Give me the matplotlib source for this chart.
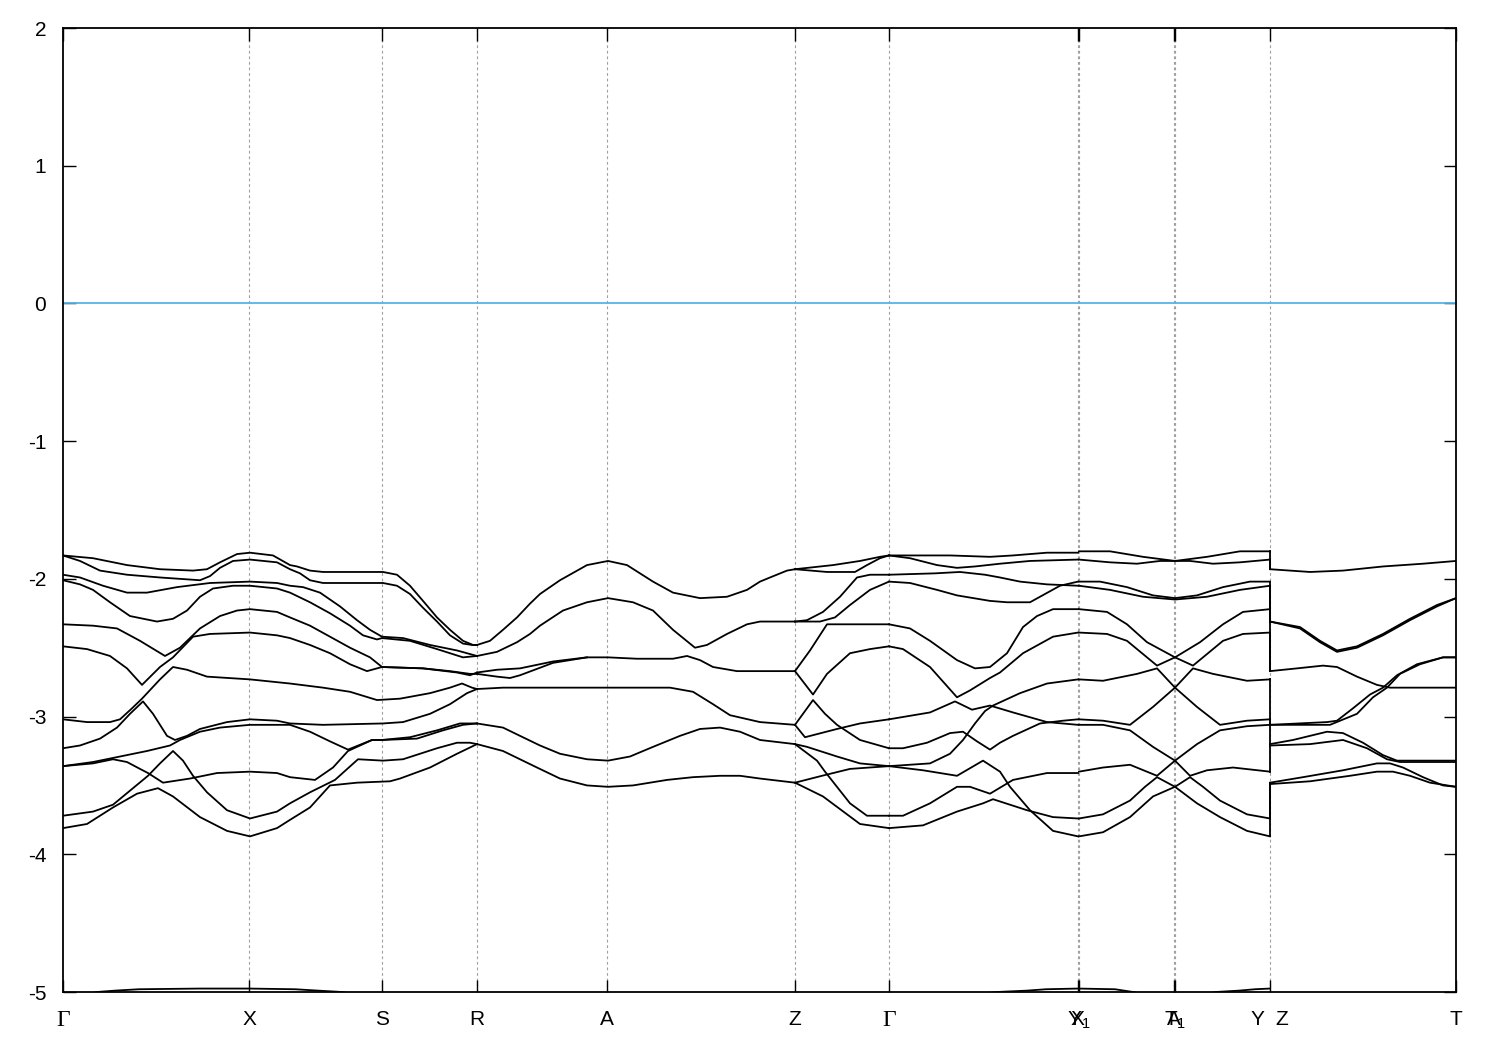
import matplotlib.pyplot as plt

plt.rcParams['font.family'] = ['Liberation Sans', 'DejaVu Sans']
plt.rcParams['axes.unicode_minus'] = False
plt.rcParams['mathtext.fontset'] = 'custom'
plt.rcParams['mathtext.rm'] = 'Liberation Sans'
plt.rcParams['mathtext.default'] = 'regular'

# high-symmetry points along the k-path
hs_k = [0.0, 1.86, 3.19, 4.14, 5.44, 7.32, 8.26, 10.145, 10.16, 11.11, 11.12, 12.07, 13.93]
hs_labels = ['Γ', 'X', 'S', 'R', 'A', 'Z', 'Γ', 'X', 'Y$_1$', 'A', 'T$_1$', 'Y  Z', 'T']

# bands as (k, E) pairs
bands_gamma_r = [
    [(0.00, -1.83), (0.30, -1.85), (0.64, -1.90), (0.97, -1.93), (1.30, -1.94), (1.44, -1.93), (1.57, -1.88),
     (1.74, -1.82), (1.87, -1.81), (2.10, -1.83), (2.27, -1.90), (2.34, -1.91), (2.47, -1.94), (2.60, -1.95),
     (3.07, -1.95), (3.20, -1.95), (3.34, -1.97), (3.47, -2.05), (3.60, -2.16), (3.74, -2.28), (3.87, -2.37),
     (4.00, -2.45), (4.10, -2.48), (4.14, -2.48)],
    [(0.00, -1.83), (0.17, -1.87), (0.37, -1.94), (0.64, -1.97), (0.97, -1.99), (1.37, -2.01), (1.47, -1.98),
     (1.57, -1.92), (1.70, -1.87), (1.87, -1.86), (2.14, -1.88), (2.27, -1.93), (2.37, -1.96), (2.47, -2.01),
     (2.60, -2.03), (3.20, -2.03), (3.34, -2.05), (3.47, -2.11), (3.60, -2.21), (3.74, -2.31), (3.87, -2.41),
     (4.00, -2.47), (4.09, -2.48), (4.14, -2.48)],
    [(0.00, -1.97), (0.17, -1.99), (0.40, -2.05), (0.64, -2.10), (0.84, -2.10), (1.14, -2.06), (1.47, -2.03),
     (1.87, -2.02), (2.14, -2.03), (2.27, -2.05), (2.40, -2.06), (2.57, -2.10), (2.77, -2.20), (2.94, -2.30),
     (3.07, -2.37), (3.19, -2.42), (3.40, -2.43), (3.67, -2.48), (3.94, -2.52), (4.14, -2.56)],
    [(0.00, -2.01), (0.17, -2.04), (0.30, -2.08), (0.47, -2.17), (0.67, -2.27), (0.94, -2.31), (1.10, -2.29),
     (1.24, -2.23), (1.37, -2.13), (1.50, -2.07), (1.70, -2.05), (1.87, -2.05), (2.14, -2.07), (2.27, -2.10),
     (2.47, -2.17), (2.67, -2.25), (2.87, -2.34), (3.00, -2.41), (3.14, -2.44), (3.19, -2.43), (3.47, -2.45),
     (3.74, -2.51), (4.00, -2.57), (4.14, -2.56)],
    [(0.00, -2.33), (0.30, -2.34), (0.54, -2.36), (0.77, -2.45), (1.02, -2.56), (1.17, -2.50), (1.37, -2.36),
     (1.57, -2.27), (1.74, -2.23), (1.87, -2.22), (2.14, -2.24), (2.27, -2.28), (2.47, -2.34), (2.67, -2.42),
     (2.87, -2.50), (3.07, -2.57), (3.19, -2.64), (3.60, -2.65), (3.87, -2.67), (4.07, -2.69), (4.14, -2.69)],
    [(0.00, -2.49), (0.24, -2.51), (0.47, -2.56), (0.64, -2.65), (0.79, -2.77), (0.97, -2.64), (1.10, -2.57),
     (1.30, -2.42), (1.47, -2.40), (1.87, -2.39), (2.14, -2.41), (2.27, -2.43), (2.47, -2.48), (2.67, -2.54),
     (2.87, -2.62), (3.04, -2.67), (3.19, -2.64), (3.60, -2.65), (3.94, -2.68), (4.07, -2.70), (4.14, -2.68)],
    [(0.00, -3.02), (0.24, -3.04), (0.47, -3.04), (0.57, -3.02), (0.69, -2.94), (0.79, -2.87), (0.97, -2.73),
     (1.10, -2.64), (1.24, -2.66), (1.44, -2.71), (1.87, -2.73), (2.27, -2.76), (2.60, -2.79), (2.87, -2.82),
     (3.14, -2.88), (3.37, -2.87), (3.67, -2.83), (3.87, -2.79), (3.99, -2.76), (4.09, -2.79), (4.14, -2.80)],
    [(0.00, -3.23), (0.17, -3.21), (0.37, -3.16), (0.54, -3.08), (0.67, -2.98), (0.80, -2.89), (0.90, -2.98),
     (1.04, -3.14), (1.12, -3.17), (1.24, -3.14), (1.37, -3.09), (1.64, -3.04), (1.87, -3.02), (2.14, -3.03),
     (2.27, -3.05), (2.60, -3.06), (3.20, -3.05), (3.40, -3.04), (3.67, -2.98), (3.87, -2.91), (4.04, -2.83),
     (4.14, -2.80)],
    [(0.00, -3.36), (0.30, -3.33), (0.57, -3.29), (0.84, -3.25), (1.07, -3.21), (1.17, -3.17), (1.37, -3.11),
     (1.57, -3.08), (1.87, -3.06), (2.27, -3.06), (2.47, -3.11), (2.67, -3.18), (2.85, -3.24), (3.09, -3.17),
     (3.19, -3.17), (3.47, -3.15), (3.74, -3.10), (3.97, -3.05), (4.14, -3.05)],
    [(0.00, -3.36), (0.30, -3.34), (0.50, -3.31), (0.64, -3.33), (0.77, -3.38), (0.85, -3.41), (1.00, -3.48),
     (1.27, -3.45), (1.54, -3.41), (1.87, -3.40), (2.14, -3.41), (2.27, -3.44), (2.52, -3.46), (2.70, -3.37),
     (2.85, -3.25), (2.97, -3.21), (3.09, -3.17), (3.19, -3.17), (3.54, -3.16), (3.80, -3.10), (4.00, -3.06),
     (4.14, -3.05)],
    [(0.00, -3.72), (0.30, -3.69), (0.50, -3.64), (0.70, -3.52), (0.85, -3.43), (0.97, -3.34), (1.10, -3.25),
     (1.20, -3.32), (1.30, -3.43), (1.44, -3.55), (1.64, -3.68), (1.87, -3.74), (2.14, -3.69), (2.27, -3.63),
     (2.47, -3.55), (2.72, -3.46), (2.95, -3.31), (3.20, -3.32), (3.40, -3.31), (3.74, -3.23), (3.94, -3.19),
     (4.07, -3.19), (4.14, -3.20)],
    [(0.00, -3.81), (0.24, -3.78), (0.50, -3.66), (0.74, -3.56), (0.95, -3.52), (1.10, -3.58), (1.37, -3.73),
     (1.64, -3.83), (1.87, -3.87), (2.14, -3.81), (2.27, -3.75), (2.47, -3.66), (2.67, -3.50), (2.94, -3.48),
     (3.27, -3.47), (3.37, -3.45), (3.67, -3.37), (3.94, -3.27), (4.14, -3.20)],
]

bands_r_z = [
    [(4.14, -2.48), (4.27, -2.45), (4.40, -2.37), (4.54, -2.28), (4.67, -2.18), (4.77, -2.11), (4.97, -2.01),
     (5.24, -1.90), (5.45, -1.87), (5.64, -1.90), (5.90, -2.02), (6.10, -2.10), (6.37, -2.14), (6.64, -2.13),
     (6.84, -2.08), (6.97, -2.02), (7.07, -1.99), (7.24, -1.94), (7.32, -1.93)],
    [(4.14, -2.56), (4.34, -2.53), (4.54, -2.46), (4.67, -2.40), (4.77, -2.34), (5.00, -2.23), (5.24, -2.17),
     (5.45, -2.14), (5.70, -2.17), (5.90, -2.23), (6.10, -2.37), (6.32, -2.50), (6.44, -2.48), (6.64, -2.40),
     (6.84, -2.33), (6.97, -2.31), (7.32, -2.31)],
    [(4.14, -2.69), (4.34, -2.71), (4.47, -2.72), (4.57, -2.70), (4.90, -2.61), (5.24, -2.57), (5.45, -2.57),
     (5.74, -2.58), (6.10, -2.58), (6.24, -2.56), (6.37, -2.59), (6.50, -2.64), (6.74, -2.67), (7.32, -2.67)],
    [(4.14, -2.68), (4.34, -2.66), (4.57, -2.65), (4.90, -2.60), (5.24, -2.57)],
    [(4.14, -2.80), (4.40, -2.79), (5.45, -2.79), (6.07, -2.79), (6.30, -2.82), (6.50, -2.91), (6.67, -2.99),
     (6.97, -3.04), (7.32, -3.06)],
    [(4.14, -3.05), (4.40, -3.08), (4.57, -3.14), (4.77, -3.21), (4.97, -3.27), (5.24, -3.31), (5.45, -3.32),
     (5.67, -3.29), (5.90, -3.22), (6.17, -3.14), (6.37, -3.09), (6.57, -3.08), (6.77, -3.11), (6.97, -3.17),
     (7.32, -3.20)],
    [(4.14, -3.20), (4.40, -3.25), (4.74, -3.37), (4.97, -3.45), (5.24, -3.50), (5.45, -3.51), (5.70, -3.50),
     (6.04, -3.46), (6.30, -3.44), (6.57, -3.43), (6.77, -3.43), (6.97, -3.45), (7.32, -3.48)],
]

bands_z_gamma = [
    [(7.32, -1.93), (7.70, -1.90), (7.97, -1.87), (8.17, -1.84), (8.26, -1.83)],
    [(7.32, -1.93), (7.64, -1.95), (7.92, -1.95), (8.04, -1.90), (8.17, -1.85), (8.26, -1.83)],
    [(7.32, -2.31), (7.44, -2.30), (7.60, -2.24), (7.77, -2.13), (7.94, -1.99), (8.07, -1.97), (8.26, -1.97)],
    [(7.32, -2.31), (7.57, -2.31), (7.72, -2.28), (7.87, -2.19), (8.07, -2.08), (8.26, -2.02)],
    [(7.32, -2.67), (7.47, -2.52), (7.64, -2.33), (7.97, -2.33), (8.26, -2.33)],
    [(7.32, -2.67), (7.50, -2.84), (7.64, -2.69), (7.87, -2.54), (8.07, -2.51), (8.26, -2.49)],
    [(7.32, -3.06), (7.50, -2.88), (7.62, -2.98), (7.74, -3.06), (7.97, -3.17), (8.26, -3.23)],
    [(7.32, -3.06), (7.42, -3.15), (7.74, -3.09), (7.97, -3.05), (8.26, -3.02)],
    [(7.32, -3.20), (7.44, -3.22), (7.74, -3.29), (7.97, -3.34), (8.26, -3.36)],
    [(7.32, -3.48), (7.59, -3.43), (7.87, -3.38), (8.26, -3.36)],
    [(7.32, -3.20), (7.54, -3.32), (7.62, -3.40), (7.87, -3.63), (8.04, -3.72), (8.26, -3.72)],
    [(7.32, -3.48), (7.60, -3.58), (7.97, -3.78), (8.26, -3.81)],
]

bands_gamma_x = [
    [(8.26, -1.83), (8.57, -1.83), (8.87, -1.83), (9.27, -1.84), (9.50, -1.83), (9.84, -1.81), (10.15, -1.81)],
    [(8.26, -1.83), (8.47, -1.85), (8.74, -1.90), (8.94, -1.92), (9.12, -1.91), (9.37, -1.89), (9.67, -1.87),
     (10.15, -1.86)],
    [(8.26, -1.97), (8.72, -1.96), (8.97, -1.95), (9.22, -1.97), (9.37, -1.99), (9.57, -2.02), (9.84, -2.04),
     (10.15, -2.05)],
    [(8.26, -2.02), (8.47, -2.03), (8.74, -2.08), (8.94, -2.12), (9.27, -2.16), (9.44, -2.17), (9.67, -2.17),
     (9.82, -2.11), (9.97, -2.05), (10.15, -2.02)],
    [(8.26, -2.33), (8.47, -2.36), (8.67, -2.45), (8.94, -2.59), (9.12, -2.65), (9.27, -2.64), (9.44, -2.54),
     (9.60, -2.35), (9.74, -2.27), (9.90, -2.22), (10.15, -2.22)],
    [(8.26, -2.49), (8.40, -2.51), (8.67, -2.64), (8.94, -2.86), (9.07, -2.81), (9.27, -2.72), (9.37, -2.68),
     (9.60, -2.54), (9.90, -2.42), (10.15, -2.39)],
    [(8.26, -3.02), (8.67, -2.97), (8.92, -2.89), (9.09, -2.95), (9.27, -2.92), (9.50, -2.97), (9.84, -3.04),
     (10.15, -3.06)],
    [(8.26, -3.23), (8.40, -3.23), (8.64, -3.19), (8.87, -3.12), (9.00, -3.11), (9.14, -3.18), (9.27, -3.24),
     (9.37, -3.19), (9.50, -3.14), (9.77, -3.05), (10.00, -3.03), (10.15, -3.02)],
    [(8.26, -3.36), (8.67, -3.34), (8.87, -3.27), (9.00, -3.17), (9.12, -3.05), (9.22, -2.96), (9.30, -2.92),
     (9.57, -2.83), (9.84, -2.76), (10.15, -2.73)],
    [(8.26, -3.36), (8.60, -3.39), (8.94, -3.43), (9.20, -3.32), (9.37, -3.40), (9.47, -3.51), (9.67, -3.68),
     (9.90, -3.83), (10.15, -3.87)],
    [(8.26, -3.72), (8.40, -3.72), (8.67, -3.63), (8.94, -3.51), (9.07, -3.51), (9.27, -3.56), (9.50, -3.46),
     (9.84, -3.41), (10.15, -3.41)],
    [(8.26, -3.81), (8.60, -3.79), (8.94, -3.69), (9.20, -3.63), (9.30, -3.60), (9.64, -3.68), (9.90, -3.73),
     (10.15, -3.74)],
]

bands_y1_y = [
    [(10.16, -1.80), (10.47, -1.80), (10.80, -1.84), (11.12, -1.87), (11.44, -1.84), (11.77, -1.80), (12.07, -1.80)],
    [(10.16, -1.86), (10.47, -1.88), (10.74, -1.89), (10.97, -1.87), (11.12, -1.87), (11.27, -1.87), (11.50, -1.89),
     (11.77, -1.88), (12.07, -1.86)],
    [(10.16, -2.02), (10.37, -2.02), (10.64, -2.06), (10.90, -2.12), (11.12, -2.14), (11.34, -2.12), (11.60, -2.06),
     (11.87, -2.02), (12.07, -2.02)],
    [(10.16, -2.05), (10.47, -2.08), (10.80, -2.13), (11.12, -2.15), (11.44, -2.13), (11.77, -2.08), (12.07, -2.05)],
    [(10.16, -2.22), (10.44, -2.24), (10.64, -2.33), (10.84, -2.46), (11.12, -2.57), (11.30, -2.63), (11.40, -2.57),
     (11.60, -2.45), (11.80, -2.40), (12.07, -2.39)],
    [(10.16, -2.39), (10.44, -2.40), (10.64, -2.45), (10.84, -2.57), (10.94, -2.63), (11.12, -2.57), (11.37, -2.46),
     (11.60, -2.33), (11.80, -2.24), (12.07, -2.22)],
    [(10.16, -2.73), (10.40, -2.74), (10.74, -2.69), (10.94, -2.65), (11.12, -2.79), (11.34, -2.93), (11.57, -3.06),
     (11.84, -3.03), (12.07, -3.02)],
    [(10.16, -3.02), (10.40, -3.03), (10.67, -3.06), (10.90, -2.93), (11.12, -2.79), (11.30, -2.65), (11.50, -2.69),
     (11.84, -2.74), (12.07, -2.73)],
    [(10.16, -3.06), (10.40, -3.06), (10.67, -3.10), (10.90, -3.22), (11.12, -3.32), (11.27, -3.43), (11.44, -3.39),
     (11.70, -3.37), (12.07, -3.40)],
    [(10.16, -3.40), (10.40, -3.37), (10.67, -3.35), (10.94, -3.43), (11.12, -3.32), (11.34, -3.20), (11.57, -3.10),
     (11.84, -3.07), (12.07, -3.06)],
    [(10.16, -3.74), (10.40, -3.71), (10.67, -3.61), (10.82, -3.51), (10.94, -3.44), (11.12, -3.51), (11.34, -3.63),
     (11.57, -3.73), (11.84, -3.83), (12.07, -3.87)],
    [(10.16, -3.87), (10.40, -3.84), (10.67, -3.73), (10.90, -3.58), (11.12, -3.51), (11.27, -3.44), (11.40, -3.51),
     (11.57, -3.61), (11.84, -3.71), (12.07, -3.74)],
]

bands_z_t = [
    [(12.07, -1.93), (12.47, -1.95), (12.80, -1.94), (13.20, -1.91), (13.60, -1.89), (13.93, -1.87)],
    [(12.07, -2.31), (12.37, -2.35), (12.57, -2.45), (12.74, -2.52), (12.94, -2.49), (13.20, -2.40), (13.47, -2.29),
     (13.74, -2.19), (13.93, -2.14)],
    [(12.07, -2.31), (12.37, -2.36), (12.57, -2.46), (12.74, -2.53), (12.94, -2.50), (13.20, -2.41), (13.47, -2.30),
     (13.74, -2.20), (13.93, -2.14)],
    [(12.07, -2.67), (12.34, -2.65), (12.60, -2.63), (12.74, -2.64), (12.94, -2.71), (13.14, -2.77), (13.27, -2.79),
     (13.93, -2.79)],
    [(12.07, -3.06), (12.64, -3.04), (12.74, -3.03), (12.90, -2.94), (13.07, -2.84), (13.20, -2.79), (13.34, -2.70),
     (13.54, -2.62), (13.80, -2.57), (13.93, -2.57)],
    [(12.07, -3.06), (12.67, -3.06), (12.94, -2.98), (13.10, -2.86), (13.24, -2.79), (13.37, -2.69), (13.57, -2.62),
     (13.80, -2.57), (13.93, -2.57)],
    [(12.07, -3.20), (12.30, -3.17), (12.64, -3.11), (12.80, -3.12), (13.00, -3.19), (13.20, -3.28), (13.34, -3.32),
     (13.47, -3.32), (13.93, -3.32)],
    [(12.07, -3.21), (12.47, -3.20), (12.80, -3.17), (13.04, -3.23), (13.24, -3.31), (13.37, -3.33), (13.93, -3.33)],
    [(12.07, -3.48), (12.40, -3.44), (12.80, -3.39), (13.14, -3.34), (13.27, -3.34), (13.40, -3.37), (13.60, -3.44),
     (13.80, -3.50), (13.93, -3.51)],
    [(12.07, -3.49), (12.47, -3.47), (12.87, -3.43), (13.14, -3.40), (13.30, -3.40), (13.47, -3.43), (13.67, -3.48),
     (13.93, -3.51)],
]

# the path jumps at Y|Z: band ends on the Y side and starts on the Z side
jump_y = [-1.80, -1.86, -2.02, -2.05, -2.22, -2.39, -2.73, -3.02, -3.06, -3.40, -3.74, -3.87]
jump_z = [-1.93, -1.93, -2.31, -2.31, -2.67, -2.67, -3.06, -3.06, -3.20, -3.21, -3.48, -3.49]

# lowest band, only just peeking above -5
band_low_1 = [(0.00, -5.06), (0.34, -5.00), (0.52, -4.99), (0.76, -4.98), (1.37, -4.975), (1.86, -4.975),
              (2.32, -4.98), (2.55, -4.99), (2.79, -5.00), (3.19, -5.06)]
band_low_2 = [(8.26, -5.10), (9.34, -5.00), (9.64, -4.99), (9.83, -4.98), (10.15, -4.975), (10.52, -4.98),
              (10.70, -5.00), (11.12, -5.06), (11.53, -5.00), (11.76, -4.99), (11.92, -4.98), (12.07, -4.975)]

fig = plt.figure(figsize=(15, 10.5), dpi=100)
ax = fig.add_axes([63 / 1500, 1 - 992 / 1050, (1456 - 63) / 1500, (992 - 28) / 1050])

for k in hs_k[1:-1]:
    ax.axvline(k, color='#a0a0a0', lw=0.8, ls=(0, (2.5, 2.5)), zorder=1)
ax.axhline(0, color='#56b4e9', lw=1.3, zorder=2)

for seg in [bands_gamma_r, bands_r_z, bands_z_gamma, bands_gamma_x, bands_y1_y, bands_z_t,
            [band_low_1, band_low_2]]:
    for curve in seg:
        ks, es = zip(*curve)
        ax.plot(ks, es, color='black', lw=1.3, zorder=3)

for e1, e2 in zip(jump_y, jump_z):
    ax.plot([hs_k[11], hs_k[11]], [e1, e2], color='black', lw=1.3, zorder=3)

ax.set_xlim(hs_k[0], hs_k[-1])
ax.set_ylim(-5, 2)
ax.set_yticks(range(-5, 3))
ax.set_xticks(hs_k)
ax.set_xticklabels(hs_labels)
ax.tick_params(axis='both', direction='in', top=True, right=True, length=9, width=1, labelsize=15)
ax.tick_params(axis='x', pad=13)
ax.tick_params(axis='y', pad=12)
for lab in ax.get_xticklabels():
    if lab.get_text() == 'Γ':
        lab.set_fontfamily('Liberation Serif')
        lab.set_fontsize(17)
for sp in ax.spines.values():
    sp.set_linewidth(1.3)

fig.savefig('out.png', dpi=100)
